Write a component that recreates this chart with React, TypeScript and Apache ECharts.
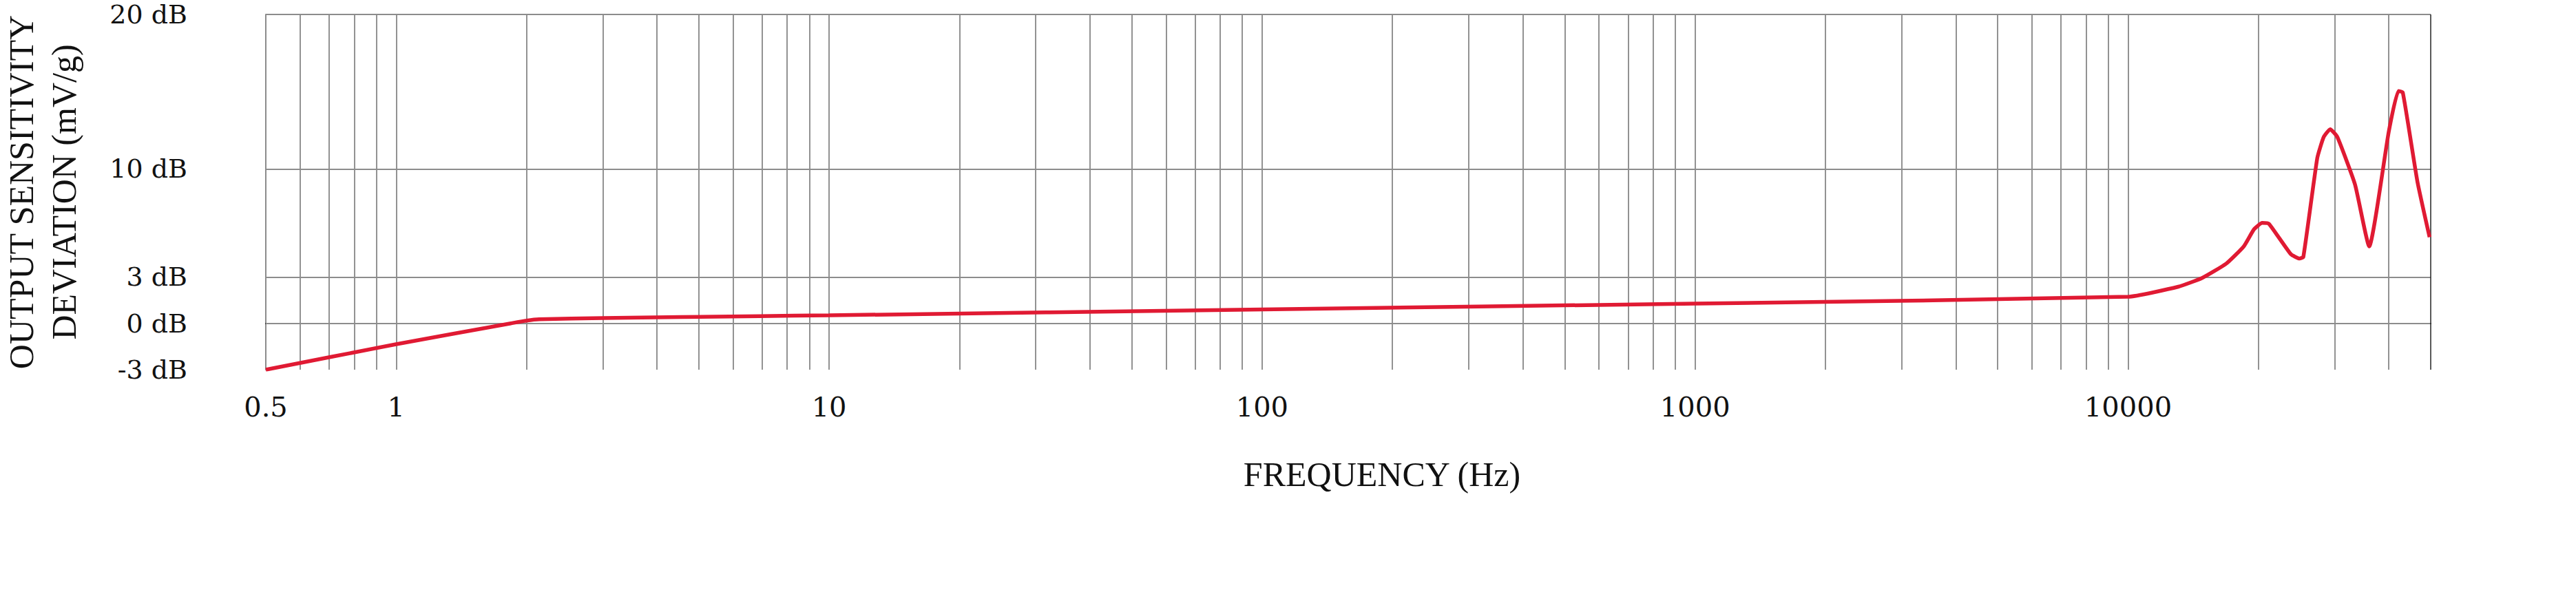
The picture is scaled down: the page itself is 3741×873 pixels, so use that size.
import React, { useEffect, useRef } from "react";
import * as echarts from "echarts";

// Frequency (Hz) and output sensitivity deviation (dB)
const freqHz = [
  0.5, 1, 1.84, 2, 2.14, 3, 6.9, 10, 100, 1000, 10000, 13060, 14830, 16860,
  18500, 19540, 20400, 21150, 23760, 24900, 25400, 27350, 28300, 29300, 30440,
  33440, 36050, 40000, 42100, 43100, 46600, 49700,
];
const deviationDb = [
  -3.0, -1.35, 0.0, 0.18, 0.27, 0.34, 0.47, 0.52, 0.9, 1.28, 1.72, 2.37, 2.94,
  3.87, 4.98, 6.09, 6.5, 6.44, 4.48, 4.2, 4.3, 10.7, 12.06, 12.57, 12.06, 8.98,
  4.98, 12.4, 15.04, 14.95, 9.16, 5.58,
];

// Axis ticks / grid
const xLabelValues = [0.5, 1, 10, 100, 1000, 10000];
const xGridValues = [
  0.6, 0.7, 0.8, 0.9, 1, 2, 3, 4, 5, 6, 7, 8, 9, 10, 20, 30, 40, 50, 60, 70, 80,
  90, 100, 200, 300, 400, 500, 600, 700, 800, 900, 1000, 2000, 3000, 4000, 5000,
  6000, 7000, 8000, 9000, 10000, 20000, 30000, 40000,
];
const yLabelValues = [-3, 0, 3, 10, 20];
const yGridValues = [0, 3, 10];
const xMin = 0.5;
const xMax = 50000;
const yMin = -3;
const yMax = 20;

const App: React.FC = () => {
  const ref = useRef<HTMLDivElement>(null);

  useEffect(() => {
    if (!ref.current) return;
    const chart = echarts.init(ref.current, undefined, { renderer: "svg" });

    const seriesData = freqHz.map((f, i) => [f, deviationDb[i]]);
    const near = (a: number, b: number) => Math.abs(a - b) / Math.abs(b) < 1e-6;

    const gridLines: any[] = [];
    xGridValues.forEach((v) =>
      gridLines.push({ xAxis: v, lineStyle: { color: "#6e6e6e", width: 1.5, type: "solid" } })
    );
    yGridValues.forEach((v) =>
      gridLines.push({ yAxis: v, lineStyle: { color: "#8c8c8c", width: 2, type: "solid" } })
    );
    gridLines.push({ yAxis: yMax, lineStyle: { color: "#8c8c8c", width: 2, type: "solid" } });
    gridLines.push({ xAxis: xMax, lineStyle: { color: "#222222", width: 1.5, type: "solid" } });

    chart.setOption({
      animation: false,
      backgroundColor: "#ffffff",
      grid: {
        left: 386,
        right: 211,
        top: 21,
        bottom: 336,
        containLabel: false,
        outerBoundsMode: "none",
      },
      xAxis: {
        type: "log",
        logBase: 10,
        min: xMin,
        max: xMax,
        name: "FREQUENCY (Hz)",
        nameLocation: "middle",
        nameGap: 127,
        nameTextStyle: {
          fontFamily: "Liberation Serif",
          fontSize: 50,
          color: "#111111",
          padding: [0, 0, 0, 98],
        },
        axisLine: { show: true, lineStyle: { color: "#222222", width: 2 } },
        axisTick: { show: false },
        splitLine: { show: false },
        minorSplitLine: { show: false },
        axisLabel: {
          show: true,
          showMinLabel: true,
          showMaxLabel: false,
          margin: 34,
          fontFamily: "DejaVu Serif",
          fontSize: 40,
          color: "#111111",
          formatter: (v: number) => {
            const hit = xLabelValues.find((t) => near(v, t));
            return hit !== undefined ? String(hit) : "";
          },
        },
      },
      yAxis: {
        type: "value",
        min: yMin,
        max: yMax,
        interval: 1,
        name: "OUTPUT SENSITIVITY\nDEVIATION (mV/g)",
        nameLocation: "middle",
        nameRotate: 90,
        nameGap: 262,
        nameTextStyle: {
          fontFamily: "Liberation Serif",
          fontSize: 50,
          lineHeight: 62,
          color: "#111111",
          align: "center",
        },
        axisLine: { show: true, lineStyle: { color: "#8c8c8c", width: 2 } },
        axisTick: { show: false },
        splitLine: { show: false },
        axisLabel: {
          margin: 114,
          fontFamily: "DejaVu Serif",
          fontSize: 38,
          lineHeight: 38,
          color: "#111111",
          formatter: (v: number) => (yLabelValues.includes(v) ? `${v} dB` : ""),
        },
      },
      series: [
        {
          type: "line",
          data: [],
          z: 1,
          silent: true,
          markLine: {
            silent: true,
            symbol: ["none", "none"],
            label: { show: false },
            emphasis: { disabled: true },
            data: gridLines,
          },
        },
        {
          type: "line",
          data: seriesData,
          z: 5,
          showSymbol: false,
          symbol: "none",
          smooth: 0.15,
          lineStyle: { color: "#e01a33", width: 5.5 },
          emphasis: { disabled: true },
        },
      ],
    });

    return () => chart.dispose();
  }, []);

  return (
    <div
      ref={ref}
      style={{ position: "absolute", left: 0, top: 0, width: 3741, height: 873, background: "#fff" }}
    />
  );
};

export default App;
